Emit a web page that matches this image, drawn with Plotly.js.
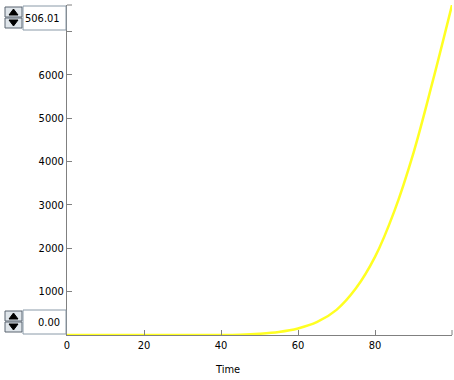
<!DOCTYPE html>
<html>
<head>
<meta charset="utf-8">
<script src="https://cdn.plot.ly/plotly-3.0.1.min.js"></script>
<style>html,body{margin:0;padding:0;background:#fff;}#chart{width:454px;height:380px;}</style>
</head>
<body>
<div id="chart"></div>
<script>
// Data
var time = [0, 5, 10, 15, 20, 25, 30, 35, 40, 45, 50, 55, 60, 65, 70, 75, 80, 85, 90, 95, 100];
var values = [0, 0, 0, 0, 0, 0, 0, 0, 0, 8, 30, 70, 150, 300, 580, 1070, 1800, 2850, 4200, 5850, 7606.01];
var xTickVals = [0, 20, 40, 60, 80];
var yTickVals = [1000, 2000, 3000, 4000, 5000, 6000, 7000];
var yTickText = ['1000', '2000', '3000', '4000', '5000', '6000', ''];
var maxLabel = '506.01';
var minLabel = '0.00';
var xTitle = 'Time';

var FONT = '"DejaVu Sans Condensed", "Liberation Sans", sans-serif';
var W = 454, H = 380, L = 67, R = 2, T = 5, B = 45;
var pw = W - L - R, ph = H - T - B;
function px(x) { return (x - L) / pw; }
function py(y) { return (H - B - y) / ph; }

var shapes = [];
var annotations = [];
function rect(x0, y0, x1, y1, line, fill) {
  shapes.push({type: 'rect', xref: 'paper', yref: 'paper', x0: px(x0), x1: px(x1), y0: py(y1), y1: py(y0),
    line: {color: line, width: 1}, fillcolor: fill, layer: 'above'});
}
function tri(cx, cy, up) {
  var a = up ? [[cx - 4.5, cy + 3], [cx + 4.5, cy + 3], [cx, cy - 3]] : [[cx - 4.5, cy - 3], [cx + 4.5, cy - 3], [cx, cy + 3]];
  var p = 'M' + a.map(function (q) { return px(q[0]) + ',' + py(q[1]); }).join(' L') + ' Z';
  shapes.push({type: 'path', xref: 'paper', yref: 'paper', path: p, fillcolor: '#000', line: {color: '#000', width: 1}, layer: 'above'});
}
function spinner(top, label) {
  rect(5, top + 1, 22, top + 11, '#5a6470', '#dfe5ea');
  rect(5, top + 12, 22, top + 22, '#5a6470', '#dfe5ea');
  tri(13.5, top + 6, true);
  tri(13.5, top + 17, false);
  rect(23, top, 66, top + 24, '#8a9aa8', '#ffffff');
  annotations.push({xref: 'paper', yref: 'paper', x: px(62), y: py(top + 12), xanchor: 'right', yanchor: 'middle',
    text: label, showarrow: false, font: {family: FONT, size: 11, color: '#000'}});
}
// axis end marks
shapes.push({type: 'line', xref: 'paper', yref: 'paper', x0: 0, x1: px(72), y0: 1, y1: 1, line: {color: '#808080', width: 1}});
shapes.push({type: 'line', xref: 'paper', yref: 'paper', x0: 1, x1: 1, y0: 0, y1: py(330), line: {color: '#808080', width: 1}});
spinner(6, maxLabel);
spinner(310, minLabel);
annotations.push({xref: 'paper', yref: 'paper', x: px(227), y: py(369), xanchor: 'center', yanchor: 'middle',
  text: xTitle, showarrow: false, font: {family: FONT, size: 11, color: '#000'}});

var trace = {x: time, y: values, type: 'scatter', mode: 'lines',
  line: {color: '#ffff22', width: 2.5, shape: 'spline', smoothing: 1}, hoverinfo: 'none'};

var layout = {
  width: W, height: H, margin: {l: L, r: R, t: T, b: B, pad: 0},
  paper_bgcolor: '#ffffff', plot_bgcolor: '#ffffff', showlegend: false,
  font: {family: FONT, size: 11, color: '#000'},
  xaxis: {range: [0, 100], showgrid: false, zeroline: false, showline: true, linecolor: '#808080', linewidth: 1,
    ticks: 'inside', ticklen: 5, tickcolor: '#808080', tickvals: xTickVals, ticktext: xTickVals.map(String),
    tickfont: {family: FONT, size: 11, color: '#000'}, fixedrange: true},
  yaxis: {range: [0, 7606.01], showgrid: false, zeroline: false, showline: true, linecolor: '#808080', linewidth: 1,
    ticks: 'inside', ticklen: 5, tickcolor: '#808080', tickvals: yTickVals, ticktext: yTickText,
    tickfont: {family: FONT, size: 11, color: '#000'}, fixedrange: true},
  shapes: shapes, annotations: annotations
};
Plotly.newPlot('chart', [trace], layout, {staticPlot: true, displayModeBar: false});
</script>
</body>
</html>
